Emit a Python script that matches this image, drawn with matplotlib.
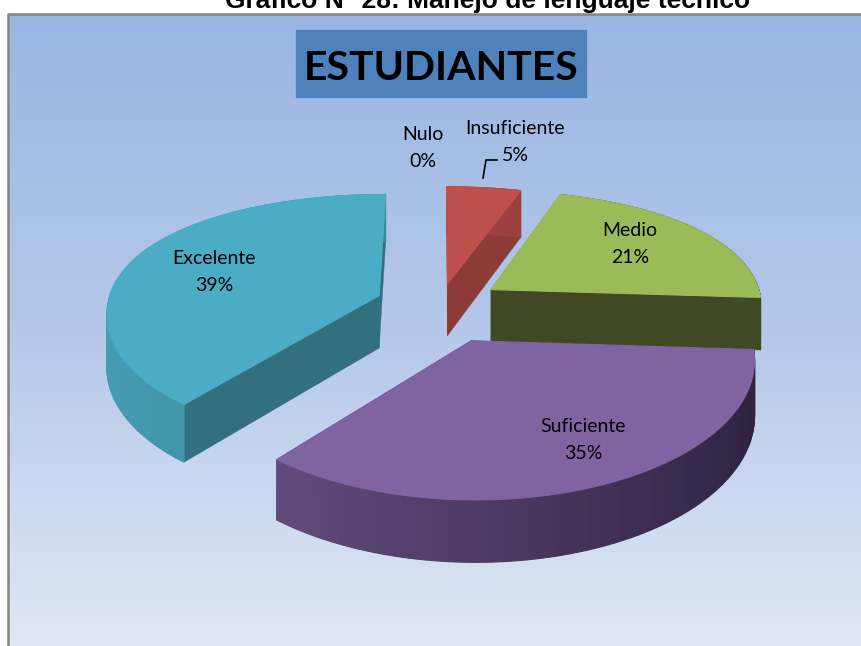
import numpy as np
import matplotlib
matplotlib.use('Agg')
import matplotlib.pyplot as plt
from matplotlib.colors import LinearSegmentedColormap, to_rgb
from matplotlib.patches import Polygon, Rectangle

categorias = ['Nulo', 'Insuficiente', 'Medio', 'Suficiente', 'Excelente']
valores = [0, 5, 21, 35, 39]
colores = ['#f79646', '#c0504d', '#9bbb59', '#8064a2', '#4bacc6']
caras = ['#7f4b23', '#8c3b39', '#3f4a25', '#2f2340', '#32707f']

titulo = 'Gráfico N° 28: Manejo de lenguaje técnico'
encabezado = 'ESTUDIANTES'

# centro y radios de la torta en pixeles
cx, cy = 440, 306
rx, ry = 272, 131
persp_x = 0.12
persp_atras = 0.25
alto = 53
expl = {'Nulo': 0.0, 'Insuficiente': 0.18, 'Medio': 0.23, 'Suficiente': 0.28, 'Excelente': 0.24}


def proyectar(u, v, abajo=False):
    k = 1 / (1 + persp_x * v)
    # atras se achica mas que adelante
    ky = np.where(np.asarray(v) > 0, 1 / (1 + persp_atras * np.asarray(v)), k)
    x = cx + u * rx * k
    y = cy - v * ry * ky
    if abajo:
        y = y + alto * k
    return x, y


def mezclar(c1, c2, t):
    a, b = np.array(to_rgb(c1)), np.array(to_rgb(c2))
    return tuple(a + (b - a) * t)


fig = plt.figure(figsize=(8.62, 6.46), dpi=100)
ax = fig.add_axes([0, 0, 1, 1])
ax.set_xlim(0, 862)
ax.set_ylim(646, 0)
ax.axis('off')

# fondo degradado
cmap = LinearSegmentedColormap.from_list('fondo', ['#9ab6e3', '#b5c8e9', '#e0e7f5'])
grad = np.linspace(0, 1, 256).reshape(-1, 1)
ax.imshow(grad, cmap=cmap, aspect='auto', extent=[8, 862, 646, 14], zorder=0)
ax.set_xlim(0, 862)
ax.set_ylim(646, 0)
ax.plot([8, 8, 862], [646, 14, 14], color='#858585', lw=1.8, zorder=1)

ax.text(488, 8, titulo, family='Liberation Sans', weight='bold', fontsize=19,
        ha='center', va='baseline', zorder=5)

ax.add_patch(Rectangle((296, 30), 290, 67, color='#4f81bd', zorder=1))
ax.text(441, 65, encabezado, family='Lato', weight='bold', fontsize=29.5,
        ha='center', va='center_baseline', zorder=5)

total = sum(valores)
orden = ['Insuficiente', 'Medio', 'Excelente', 'Suficiente']
inicio = {}
acum = 0
for nombre, val in zip(categorias, valores):
    inicio[nombre] = acum / total * 2 * np.pi
    acum += val

z = 2
for nombre in orden:
    i = categorias.index(nombre)
    a0 = inicio[nombre]
    a1 = a0 + valores[i] / total * 2 * np.pi
    med = (a0 + a1) / 2
    ou = expl[nombre] * np.sin(med)
    ov = expl[nombre] * np.cos(med)
    ang = np.linspace(a0, a1, 120)
    us = ou + np.sin(ang)
    vs = ov + np.cos(ang)

    # caras de corte
    for a in (a0, a1):
        u1, v1 = ou + np.sin(a), ov + np.cos(a)
        pts = [proyectar(ou, ov), proyectar(u1, v1), proyectar(u1, v1, True), proyectar(ou, ov, True)]
        ax.add_patch(Polygon(pts, closed=True, fc=caras[i], ec=caras[i], lw=0.3, zorder=z))
    z += 1

    # borde exterior con degradado
    for j in range(len(ang) - 1):
        pts = [proyectar(us[j], vs[j]), proyectar(us[j + 1], vs[j + 1]),
               proyectar(us[j + 1], vs[j + 1], True), proyectar(us[j], vs[j], True)]
        t = np.clip((np.sin(ang[j]) + 1) / 2, 0, 1)
        col = mezclar(colores[i], caras[i], 0.25 + 0.75 * t)
        ax.add_patch(Polygon(pts, closed=True, fc=col, ec=col, lw=0.8, zorder=z))
    z += 1

    # cara superior
    xs, ys = proyectar(us, vs)
    ox, oy = proyectar(ou, ov)
    pts = [(ox, oy)] + list(zip(xs, ys))
    ax.add_patch(Polygon(pts, closed=True, fc=colores[i], ec=colores[i], lw=0.8, zorder=z))
    z += 1

# etiquetas
etiquetas = [('Nulo', 423, 148), ('Insuficiente', 515, 142), ('Medio', 630, 244),
             ('Suficiente', 583, 440), ('Excelente', 214, 272)]
for nombre, x, y in etiquetas:
    val = valores[categorias.index(nombre)]
    ax.text(x, y, f'{nombre}\n{val}%', family='Lato', fontsize=14, ha='center', va='center',
            linespacing=1.68, zorder=50)
ax.plot([483, 486, 497], [178, 160, 160], color='black', lw=1.2, zorder=50)

fig.savefig('out.png', dpi=100)
